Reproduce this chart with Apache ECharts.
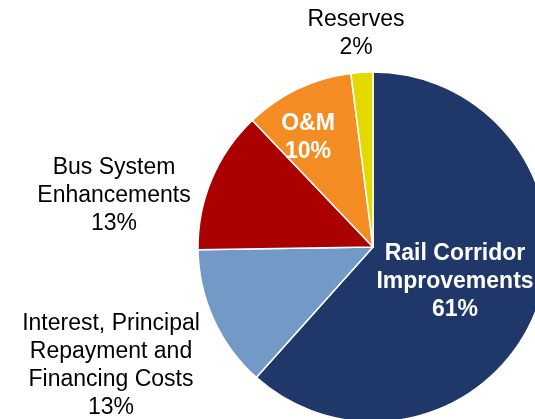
<!DOCTYPE html>
<html>
<head>
<meta charset="utf-8">
<script src="https://cdn.jsdelivr.net/npm/echarts@6/dist/echarts.min.js"></script>
<style>
  html, body { margin: 0; padding: 0; background: #fff; }
  #chart { width: 535px; height: 419px; }
</style>
</head>
<body>
<div id="chart"></div>
<script>
// Funding allocation shares (percent)
const categories = [
  'Rail Corridor\nImprovements',
  'Interest, Principal\nRepayment and\nFinancing Costs',
  'Bus System\nEnhancements',
  'O&M',
  'Reserves'
];
const shares = [61, 13, 13, 10, 2];
const sliceColors = ['#1F3869', '#7399C6', '#AA0000', '#F38C22', '#E3D800'];

// Label anchor points (px) and whether the label sits on the slice
const labelAnchors = [[455, 282], [111, 366], [114, 196], [308, 138], [356, 34]];
const insideLabel = [true, false, false, true, false];

const chart = echarts.init(document.getElementById('chart'), null, { renderer: 'canvas' });

chart.setOption({
  animation: false,
  backgroundColor: '#ffffff',
  series: [{
    type: 'pie',
    center: [373, 247],
    radius: 175,
    startAngle: 90,
    clockwise: true,
    avoidLabelOverlap: false,
    itemStyle: { borderColor: '#ffffff', borderWidth: 1.5 },
    labelLine: { show: false },
    label: {
      position: 'inside',
      fontFamily: 'Liberation Sans, Arial, sans-serif',
      fontSize: 23,
      lineHeight: 28,
      align: 'center',
      formatter: p => p.name + '\n' + p.value + '%'
    },
    labelLayout: p => ({
      x: labelAnchors[p.dataIndex][0],
      y: labelAnchors[p.dataIndex][1],
      align: 'center',
      verticalAlign: 'middle'
    }),
    data: categories.map((name, i) => ({
      name: name,
      value: shares[i],
      itemStyle: { color: sliceColors[i] },
      label: insideLabel[i]
        ? { color: '#ffffff', fontWeight: 'bold' }
        : { color: '#000000', fontWeight: 'normal' }
    }))
  }]
});
</script>
</body>
</html>
